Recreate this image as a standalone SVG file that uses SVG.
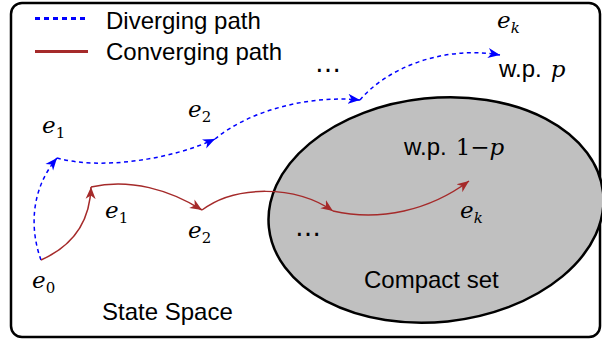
<svg xmlns="http://www.w3.org/2000/svg" width="602" height="344" viewBox="0 0 602 344">
<style>
.sans{font-family:"Liberation Sans","DejaVu Sans",sans-serif;font-size:24px;fill:#000}
.math{font-family:"DejaVu Serif","Liberation Serif",serif;font-style:italic;font-size:23px;fill:#000}
.up{font-style:normal}
.sub{font-style:normal;font-size:15px}
.subi{font-size:15px}
.dots{font-family:"DejaVu Sans",sans-serif;font-size:26px;fill:#000}
.blue{fill:none;stroke:#0000ff;stroke-width:1.5;stroke-dasharray:4 3.5}
.red{fill:none;stroke:#a52a2a;stroke-width:1.5}
</style>
<defs>
<marker id="ab" markerUnits="userSpaceOnUse" markerWidth="13" markerHeight="11" refX="12" refY="5" orient="auto" viewBox="0 0 13 10">
<path d="M0,0 L12,5 L0,10 L3.5,5 z" fill="#0000ff"/>
</marker>
<marker id="ar" markerUnits="userSpaceOnUse" markerWidth="13" markerHeight="11" refX="12" refY="5" orient="auto" viewBox="0 0 13 10">
<path d="M0,0 L12,5 L0,10 L3.5,5 z" fill="#a52a2a"/>
</marker>
</defs>
<g id="state-space">
<rect x="11" y="3" width="589" height="334" rx="11" fill="#fff" stroke="#000" stroke-width="2.5"/>
<text class="sans" x="102" y="320">State Space</text>
</g>
<g id="compact-set">
<ellipse cx="436" cy="210" rx="168" ry="112" transform="rotate(-6 436 210)" fill="#c0c0c0" stroke="#000" stroke-width="2.5"/>
<text class="sans" x="364" y="288">Compact set</text>
</g>
<g id="legend">
<line x1="35" y1="18.5" x2="88" y2="18.5" stroke="#0000ff" stroke-width="3" stroke-dasharray="5 4"/>
<text class="sans" x="106" y="29">Diverging path</text>
<line x1="35" y1="51.5" x2="88" y2="51.5" stroke="#a52a2a" stroke-width="3"/>
<text class="sans" x="106" y="60">Converging path</text>
</g>
<g id="connectors">
<path class="blue" d="M41,260 C30,230 30,190 57,158" marker-end="url(#ab)"/>
<path class="blue" d="M57,158 C100,170 170,160 215,139" marker-end="url(#ab)"/>
<path class="blue" d="M215,139 C250,110 310,95 360,100" marker-end="url(#ab)"/>
<path class="blue" d="M360,100 C385,70 440,45 500,55" marker-end="url(#ab)"/>
<path class="red" d="M41,260 C75,245 90,220 91,187" marker-end="url(#ar)"/>
<path class="red" d="M91,187 C130,178 170,190 202,210" marker-end="url(#ar)"/>
<path class="red" d="M202,210 C235,185 295,185 333,211" marker-end="url(#ar)"/>
<path class="red" d="M333,211 C380,222 430,210 469,181" marker-end="url(#ar)"/>
</g>
<g id="labels">
<text class="math" x="42" y="133">e<tspan class="sub" dy="5">1</tspan></text>
<text class="math" x="188" y="117">e<tspan class="sub" dy="5">2</tspan></text>
<text class="math" x="497" y="28">e<tspan class="subi" dy="5">k</tspan></text>
<text x="499" y="77"><tspan class="sans">w.p.</tspan><tspan class="math" dx="9">p</tspan></text>
<text class="dots" x="315" y="72">…</text>
<text class="math" x="105" y="218">e<tspan class="sub" dy="5">1</tspan></text>
<text class="math" x="188" y="238">e<tspan class="sub" dy="5">2</tspan></text>
<text class="dots" x="295" y="236">…</text>
<text class="math" x="460" y="218">e<tspan class="subi" dy="5">k</tspan></text>
<text x="404" y="155"><tspan class="sans">w.p.</tspan><tspan class="math up" dx="9">1−</tspan><tspan class="math">p</tspan></text>
<text class="math" x="32" y="288">e<tspan class="sub" dy="5">0</tspan></text>
</g>
</svg>
